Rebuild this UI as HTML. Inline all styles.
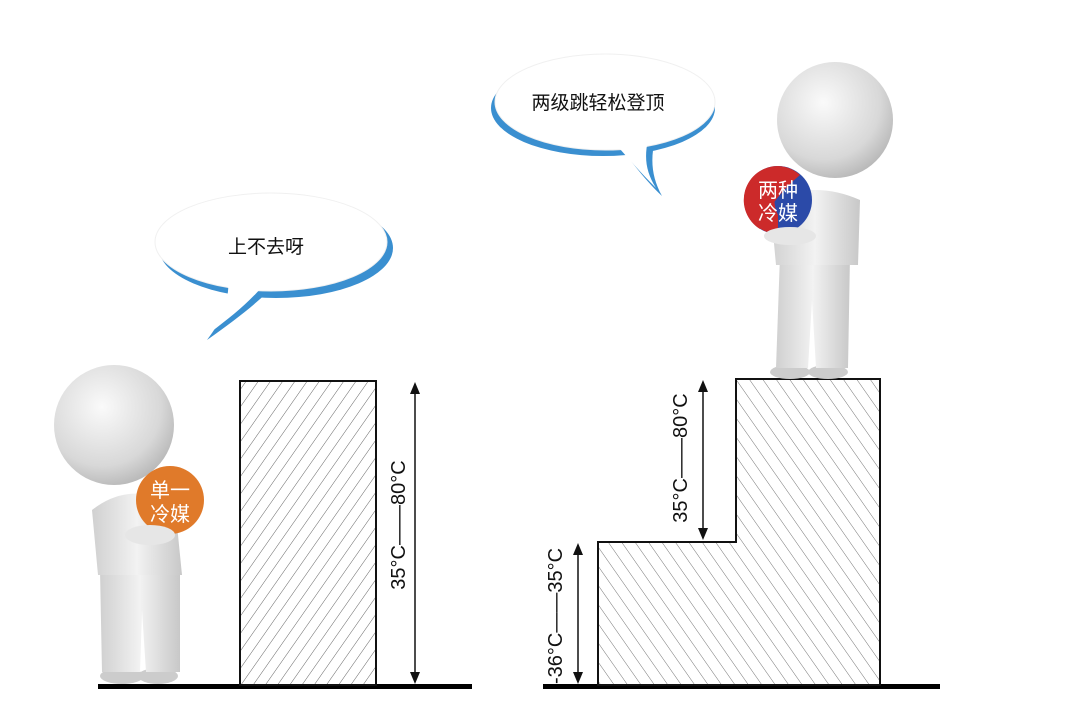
<!DOCTYPE html>
<html><head><meta charset="utf-8"><style>
html,body{margin:0;padding:0;background:#fff}
svg{display:block}
text{font-family:"Liberation Sans","Noto Sans CJK SC",sans-serif}
</style></head><body>
<svg width="1079" height="702" viewBox="0 0 1079 702" xmlns="http://www.w3.org/2000/svg">
<defs>
<pattern id="hR" patternUnits="userSpaceOnUse" width="10" height="10" patternTransform="rotate(35)">
<rect width="10" height="10" fill="#fff"/><line x1="0" y1="0" x2="0" y2="10" stroke="#555" stroke-width="0.9"/></pattern>
<pattern id="hL" patternUnits="userSpaceOnUse" width="11" height="11" patternTransform="rotate(-35)">
<rect width="11" height="11" fill="#fff"/><line x1="0" y1="0" x2="0" y2="11" stroke="#666" stroke-width="0.9"/></pattern>
<radialGradient id="head" cx="0.4" cy="0.35" r="0.7"><stop offset="0" stop-color="#fafafa"/><stop offset="0.7" stop-color="#d8d8d8"/><stop offset="1" stop-color="#b5b5b5"/></radialGradient>
<linearGradient id="body" x1="0" x2="1"><stop offset="0" stop-color="#d0d0d0"/><stop offset="0.5" stop-color="#f2f2f2"/><stop offset="1" stop-color="#c8c8c8"/></linearGradient>
</defs>

<!-- bubble 1 -->
<g>
<path d="M615,140 C630,160 645,180 662,196 C652,178 650,160 655,140 Z" fill="#3a8fd0"/>
<ellipse cx="603" cy="108" rx="112" ry="48" fill="#3a8fd0"/>
<ellipse cx="605" cy="102" rx="110" ry="48" fill="#fff" stroke="#f0f0f0"/>
<path d="M612,140 C628,158 640,172 656,188 C646,172 644,158 648,140 Z" fill="#fff"/>
<text x="598" y="109" font-size="19" text-anchor="middle" fill="#111">两级跳轻松登顶</text>
</g>
<!-- bubble 2 -->
<g>
<path d="M232,280 C232,300 222,320 207,340 C235,320 255,305 275,285 Z" fill="#3a8fd0"/>
<ellipse cx="276" cy="248" rx="117" ry="50" fill="#3a8fd0"/>
<ellipse cx="271" cy="242" rx="116" ry="49" fill="#fff" stroke="#f0f0f0"/>
<path d="M228,280 C230,298 222,315 211,332 C232,316 250,302 266,282 Z" fill="#fff"/>
<text x="266" y="253" font-size="19" text-anchor="middle" fill="#111">上不去呀</text>
</g>

<!-- left ground & block -->
<rect x="98" y="684" width="374" height="5" fill="#000"/>
<rect x="240" y="381" width="136" height="304" fill="url(#hR)" stroke="#111" stroke-width="2"/>
<line x1="415" y1="392" x2="415" y2="675" stroke="#111" stroke-width="1.5"/>
<polygon points="415,382 410,394 420,394" fill="#111"/>
<polygon points="415,684 410,672 420,672" fill="#111"/>
<text transform="translate(405,525) rotate(-90)" font-size="20" text-anchor="middle" fill="#111">35°C——80°C</text>

<!-- right ground & step -->
<rect x="543" y="684" width="397" height="5" fill="#000"/>
<path d="M598,685 L598,542 L736,542 L736,379 L880,379 L880,685 Z" fill="url(#hL)" stroke="#111" stroke-width="2"/>
<line x1="703" y1="390" x2="703" y2="530" stroke="#111" stroke-width="1.5"/>
<polygon points="703,380 698,392 708,392" fill="#111"/>
<polygon points="703,540 698,528 708,528" fill="#111"/>
<text transform="translate(687,458) rotate(-90)" font-size="20" text-anchor="middle" fill="#111">35°C——80°C</text>
<line x1="578" y1="553" x2="578" y2="675" stroke="#111" stroke-width="1.5"/>
<polygon points="578,543 573,555 583,555" fill="#111"/>
<polygon points="578,684 573,672 583,672" fill="#111"/>
<text transform="translate(562,616) rotate(-90)" font-size="20" text-anchor="middle" fill="#111">-36°C——35°C</text>

<!-- left figure -->
<g>
<ellipse cx="122" cy="676" rx="22" ry="8" fill="#ccc"/>
<ellipse cx="158" cy="676" rx="20" ry="8" fill="#ccc"/>
<path d="M100,570 L102,672 L140,672 L142,610 L146,672 L180,672 L180,570 Z" fill="url(#body)"/>
<path d="M92,510 Q130,480 175,505 L182,575 L98,575 Z" fill="url(#body)"/>
<circle cx="114" cy="425" r="60" fill="url(#head)"/>
<circle cx="170" cy="500" r="34" fill="#e07a2a"/>
<text x="170" y="497" font-size="20" text-anchor="middle" fill="#fff">单一</text>
<text x="170" y="521" font-size="20" text-anchor="middle" fill="#fff">冷媒</text>
<ellipse cx="150" cy="535" rx="25" ry="10" fill="#e6e6e6"/>
</g>

<!-- right figure -->
<g>
<ellipse cx="790" cy="372" rx="20" ry="7" fill="#ccc"/>
<ellipse cx="828" cy="372" rx="20" ry="7" fill="#ccc"/>
<path d="M780,255 L776,368 L808,368 L812,300 L816,368 L848,368 L850,255 Z" fill="url(#body)"/>
<path d="M770,200 Q815,180 860,200 L858,265 L776,265 Z" fill="url(#body)"/>
<circle cx="835" cy="120" r="58" fill="url(#head)"/>
<circle cx="778" cy="200" r="34" fill="#2b4aa8"/>
<path d="M778,166 A34,34 0 0 0 760,229 Q770,200 800,175 A34,34 0 0 0 778,166 Z" fill="#cc2a2a"/>
<path d="M745,195 A34,34 0 0 0 778,234 L778,215 Q770,200 780,175 Q752,178 745,195Z" fill="#cc2a2a"/>
<text x="778" y="197" font-size="20" text-anchor="middle" fill="#fff">两种</text>
<text x="778" y="220" font-size="20" text-anchor="middle" fill="#fff">冷媒</text>
<ellipse cx="790" cy="236" rx="26" ry="9" fill="#e6e6e6"/>
</g>
</svg>
</body></html>
